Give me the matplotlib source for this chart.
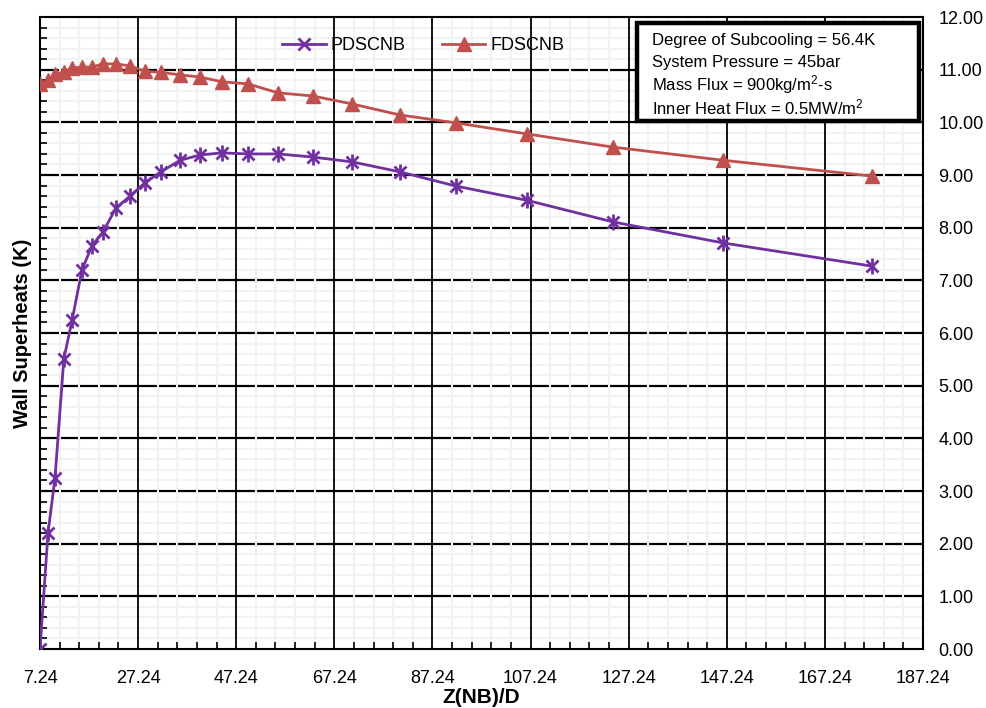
import matplotlib
matplotlib.use("Agg")
import matplotlib.pyplot as plt
import numpy as np
from matplotlib.patches import Rectangle
from matplotlib.ticker import MultipleLocator, FixedLocator, FormatStrFormatter

plt.rcParams['font.family'] = ['Liberation Sans', 'DejaVu Sans']
plt.rcParams['mathtext.fontset'] = 'custom'
plt.rcParams['mathtext.rm'] = 'Liberation Sans'
plt.rcParams['mathtext.it'] = 'Liberation Sans:italic'

# data
z_nb = [7.24, 8.87, 10.3, 12.1, 13.8, 15.8, 17.8, 20.1, 22.7, 25.6, 28.6, 31.9,
        35.8, 39.9, 44.3, 49.6, 55.8, 62.9, 70.8, 80.6, 92.0, 106.5, 124.0,
        146.5, 176.8]
pdscnb = [0.0, 2.20, 3.25, 5.51, 6.25, 7.20, 7.65, 7.92, 8.37, 8.60, 8.85, 9.06,
          9.28, 9.38, 9.42, 9.40, 9.40, 9.34, 9.25, 9.06, 8.79, 8.52, 8.11,
          7.71, 7.27]
fdscnb = [10.73, 10.80, 10.92, 10.95, 11.03, 11.05, 11.05, 11.11, 11.11, 11.07,
          10.97, 10.95, 10.90, 10.86, 10.77, 10.73, 10.56, 10.50, 10.35, 10.14,
          9.99, 9.78, 9.53, 9.28, 8.98]
x_ticks = [7.24 + 20 * i for i in range(10)]
info_lines = ["Degree of Subcooling = 56.4K",
              "System Pressure = 45bar",
              "Mass Flux = 900kg/m$^{2}$-s",
              "Inner Heat Flux = 0.5MW/m$^{2}$"]

purple = '#7030A0'
red = '#C0504D'

W, H = 987, 708
fig = plt.figure(figsize=(W / 100, H / 100), dpi=100)
ax = fig.add_axes([40/W, 59/H, 883/W, 632/H])
ax.set_xlim(7.24, 187.24)
ax.set_ylim(0, 12)

# grid: horizontal majors under light minor grid, vertical majors on top
for yv in range(1, 12):
    ax.axhline(yv, color='black', lw=1.6, zorder=1)
ax.xaxis.set_minor_locator(FixedLocator(np.arange(7.24, 187.25, 4)))
ax.yaxis.set_minor_locator(MultipleLocator(0.2))
ax.grid(which='minor', color='#f2f2f2', lw=1.5, zorder=1.5)
for xv in x_ticks[1:-1]:
    ax.axvline(xv, color='black', lw=1.3, zorder=2)

ax.plot(z_nb, pdscnb, color=purple, lw=2, marker='x', ms=9, mew=2,
        zorder=4, label='PDSCNB')
ax.plot(z_nb, pdscnb, color=purple, lw=0, marker='|', ms=11, mew=2, zorder=4)
ax.plot(z_nb, fdscnb, color=red, lw=2, marker='^', ms=10, zorder=4,
        label='FDSCNB')

ax.set_xticks(x_ticks)
ax.set_xticklabels([f"{v:.2f}" for v in x_ticks])
ax.set_yticks(range(13))
ax.yaxis.set_major_formatter(FormatStrFormatter('%.2f'))
ax.yaxis.tick_right()
ax.tick_params(axis='both', which='major', labelsize=13, length=0)
ax.tick_params(axis='x', which='major', pad=15)
ax.tick_params(axis='y', which='major', pad=11)
ax.tick_params(axis='x', which='minor', direction='in', length=5, width=1.2,
               bottom=True)
ax.tick_params(axis='y', which='minor', direction='in', length=5, width=1.2,
               left=True, right=False)
for s in ax.spines.values():
    s.set_linewidth(1.5)
    s.set_zorder(3)

ax.set_xlabel("Z(NB)/D", fontsize=15, fontweight='bold', labelpad=1)
ax.set_ylabel("Wall Superheats (K)", fontsize=14.5, fontweight='bold', labelpad=6)
ax.yaxis.set_label_position('left')

leg = ax.legend(loc='center left', bbox_to_anchor=(235/883, 1 - 29/632), ncol=2,
                frameon=False, fontsize=13, handlelength=2.4,
                handletextpad=0.3, columnspacing=2.0, borderaxespad=0)
leg.set_zorder(1.8)

# info box, drawn in pixel coordinates of the figure
box = Rectangle((637/W, 1 - 121/H), 282/W, 98/H, transform=fig.transFigure,
                fc='white', ec='black', lw=3.2, zorder=6)
fig.add_artist(box)
for i, line in enumerate(info_lines):
    fig.text(652/W, 1 - (41 + 22 * i)/H, line, fontsize=12, va='center',
             ha='left', zorder=7)

fig.savefig('out.png', dpi=100)
